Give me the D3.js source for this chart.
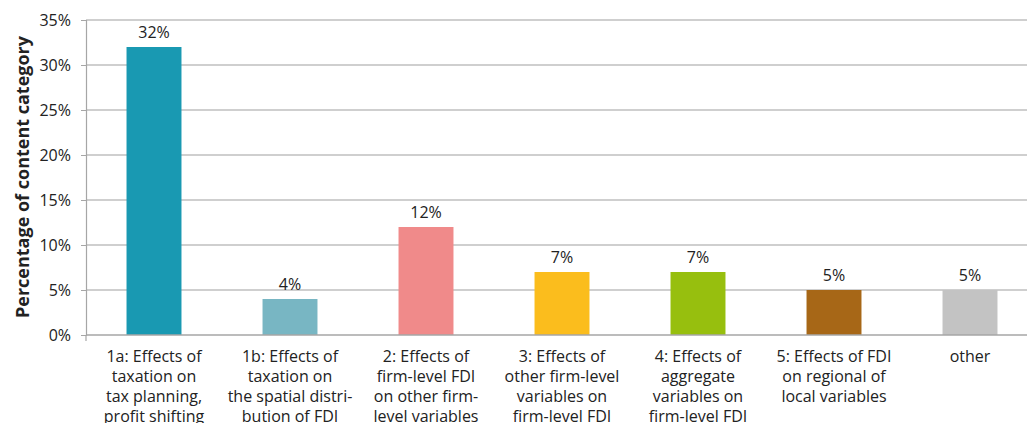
<!DOCTYPE html>
<html><head><meta charset="utf-8">
<script src="https://cdn.jsdelivr.net/npm/d3@7"></script>
<style>body{margin:0;background:#fff}svg{display:block}text{font-family:"Open Sans","Noto Sans",sans-serif;fill:#222}</style>
</head><body>
<svg id="c" width="1027" height="423"></svg>
<script>
const categories = [
  ["1a: Effects of","taxation on","tax planning,","profit shifting"],
  ["1b: Effects of","taxation on","the spatial distri-","bution of FDI"],
  ["2: Effects of","firm-level FDI","on other firm-","level variables"],
  ["3: Effects of","other firm-level","variables on","firm-level FDI"],
  ["4: Effects of","aggregate","variables on","firm-level FDI"],
  ["5: Effects of FDI","on regional of","local variables"],
  ["other"]
];
const values = [32, 4, 12, 7, 7, 5, 5];
const colors = ["#1999b2","#78b6c3","#f08a8a","#fbbd1d","#97bf0e","#a76717","#c3c3c3"];
const yTicks = [0,5,10,15,20,25,30,35];
const yTitle = "Percentage of content category";

const svg = d3.select("#c");
const x = d3.scaleBand().domain(d3.range(values.length)).range([86, 1038]).paddingInner(0.596).paddingOuter(0.298);
const y = d3.scaleLinear().domain([0,35]).range([335, 20]);

// gridlines
svg.append("g").selectAll("line").data(yTicks.filter(d=>d>0)).join("line")
  .attr("x1",86).attr("x2",1038).attr("y1",d=>y(d)).attr("y2",d=>y(d))
  .attr("stroke","#bfbfbf").attr("stroke-width",1.5);

// y axis
const ya = svg.append("g").attr("transform","translate(86,0)")
  .call(d3.axisLeft(y).tickValues(yTicks).tickFormat(d=>d+"%").tickSize(5).tickPadding(10));
ya.select(".domain").attr("stroke","#a6a6a6").attr("stroke-width",1.2);
ya.selectAll(".tick line").attr("stroke","#a6a6a6");
ya.selectAll("text").attr("font-size",16).style("fill","#222").attr("font-family","'Open Sans',sans-serif");

// bars
svg.append("g").selectAll("rect").data(values).join("rect")
  .attr("x",(d,i)=>x(i)).attr("width",x.bandwidth())
  .attr("y",d=>y(d)).attr("height",d=>y(0)-y(d))
  .attr("fill",(d,i)=>colors[i]);

// x axis line
svg.append("line").attr("x1",86).attr("x2",1038).attr("y1",335).attr("y2",335).attr("stroke","#a6a6a6").attr("stroke-width",1.5);
svg.append("line").attr("x1",86).attr("x2",86).attr("y1",335).attr("y2",341).attr("stroke","#a6a6a6").attr("stroke-width",1.2);

// value labels
svg.append("g").selectAll("text").data(values).join("text")
  .attr("x",(d,i)=>x(i)+x.bandwidth()/2).attr("y",d=>y(d)-9)
  .attr("text-anchor","middle").attr("font-size",16).text(d=>d+"%");

// category labels
const cl = svg.append("g").selectAll("text").data(categories).join("text")
  .attr("x",(d,i)=>x(i)+x.bandwidth()/2).attr("y",362)
  .attr("text-anchor","middle").attr("font-size",16);
cl.selectAll("tspan").data(d=>d).join("tspan")
  .attr("x",function(){return this.parentNode.getAttribute("x");})
  .attr("dy",(d,j)=>j===0?0:20).text(d=>d);

// y title
svg.append("text").attr("transform","translate(29,177) rotate(-90)")
  .attr("text-anchor","middle").attr("font-size",18).attr("font-weight","bold").text(yTitle);
</script>
</body></html>
